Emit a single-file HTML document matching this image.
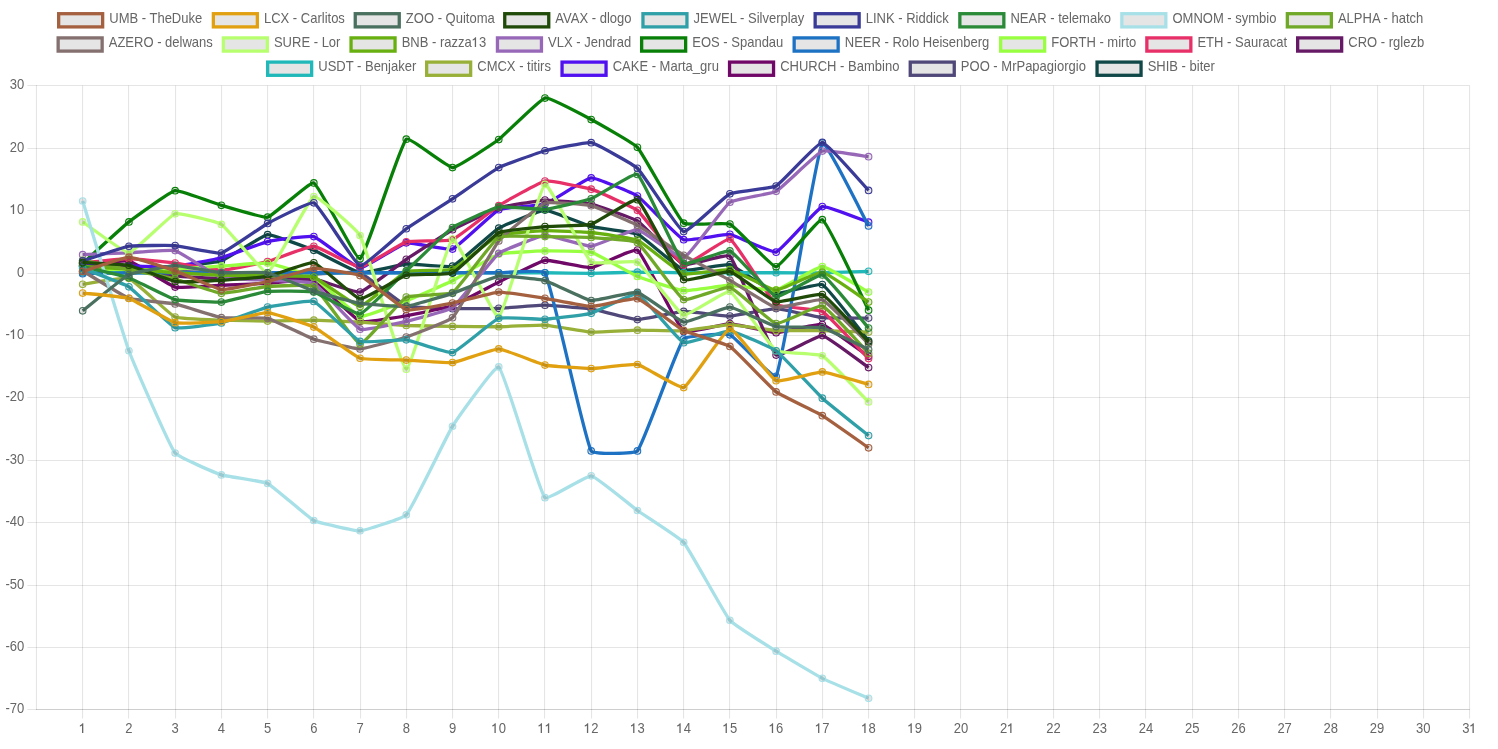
<!DOCTYPE html><html><head><meta charset="utf-8"><title>chart</title><style>html,body{margin:0;padding:0;background:#fff;overflow:hidden}body{width:1498px;height:749px;position:relative}</style></head><body><svg width="1498" height="749" viewBox="0 0 1498 749" style="position:absolute;left:0;top:0;font-family:'Liberation Sans',sans-serif;font-size:14px;fill:#666;will-change:transform"><g stroke="rgba(0,0,0,0.1)" stroke-width="1.1" fill="none"><path d="M82.55 85.55V718.55"/><path d="M128.55 85.55V718.55"/><path d="M175.55 85.55V718.55"/><path d="M221.55 85.55V718.55"/><path d="M267.55 85.55V718.55"/><path d="M313.55 85.55V718.55"/><path d="M360.55 85.55V718.55"/><path d="M406.55 85.55V718.55"/><path d="M452.55 85.55V718.55"/><path d="M498.55 85.55V718.55"/><path d="M544.55 85.55V718.55"/><path d="M591.55 85.55V718.55"/><path d="M637.55 85.55V718.55"/><path d="M683.55 85.55V718.55"/><path d="M729.55 85.55V718.55"/><path d="M776.55 85.55V718.55"/><path d="M822.55 85.55V718.55"/><path d="M868.55 85.55V718.55"/><path d="M914.55 85.55V718.55"/><path d="M960.55 85.55V718.55"/><path d="M1007.55 85.55V718.55"/><path d="M1053.55 85.55V718.55"/><path d="M1099.55 85.55V718.55"/><path d="M1145.55 85.55V718.55"/><path d="M1192.55 85.55V718.55"/><path d="M1238.55 85.55V718.55"/><path d="M1284.55 85.55V718.55"/><path d="M1330.55 85.55V718.55"/><path d="M1377.55 85.55V718.55"/><path d="M1423.55 85.55V718.55"/><path d="M1469.55 85.55V718.55"/><path d="M27.45 85.55H1469.55"/><path d="M27.45 148.55H1469.55"/><path d="M27.45 210.55H1469.55"/><path d="M27.45 273.55H1469.55"/><path d="M27.45 335.55H1469.55"/><path d="M27.45 397.55H1469.55"/><path d="M27.45 460.55H1469.55"/><path d="M27.45 522.55H1469.55"/><path d="M27.45 585.55H1469.55"/><path d="M27.45 647.55H1469.55"/><path d="M27.45 709.55H1469.55"/><path d="M36.45 85.00V710.10"/><path d="M35.90 709.55H1470.10"/></g><g><text transform="translate(9.87 88.90) scale(0.93 1)">30</text><text transform="translate(9.87 151.90) scale(0.93 1)">20</text><path transform="translate(9.87 213.90)" d="M4.25 0H2.95V-7.35C2.35 -6.85 1.55 -6.5 0.8 -6.35V-7.55C1.9 -7.9 2.85 -8.7 3.35 -9.6H4.25Z"/><text transform="translate(17.11 213.90) scale(0.93 1)">0</text><text transform="translate(17.11 276.90) scale(0.93 1)">0</text><text transform="translate(5.53 338.90) scale(0.93 1)">-</text><path transform="translate(9.87 338.90)" d="M4.25 0H2.95V-7.35C2.35 -6.85 1.55 -6.5 0.8 -6.35V-7.55C1.9 -7.9 2.85 -8.7 3.35 -9.6H4.25Z"/><text transform="translate(17.11 338.90) scale(0.93 1)">0</text><text transform="translate(5.53 400.90) scale(0.93 1)">-20</text><text transform="translate(5.53 463.90) scale(0.93 1)">-30</text><text transform="translate(5.53 525.90) scale(0.93 1)">-40</text><text transform="translate(5.53 588.90) scale(0.93 1)">-50</text><text transform="translate(5.53 650.90) scale(0.93 1)">-60</text><text transform="translate(5.53 712.90) scale(0.93 1)">-70</text><path transform="translate(79.06 732.90)" d="M4.25 0H2.95V-7.35C2.35 -6.85 1.55 -6.5 0.8 -6.35V-7.55C1.9 -7.9 2.85 -8.7 3.35 -9.6H4.25Z"/><text transform="translate(125.29 732.90) scale(0.93 1)">2</text><text transform="translate(171.52 732.90) scale(0.93 1)">3</text><text transform="translate(217.75 732.90) scale(0.93 1)">4</text><text transform="translate(263.97 732.90) scale(0.93 1)">5</text><text transform="translate(310.20 732.90) scale(0.93 1)">6</text><text transform="translate(356.43 732.90) scale(0.93 1)">7</text><text transform="translate(402.66 732.90) scale(0.93 1)">8</text><text transform="translate(448.89 732.90) scale(0.93 1)">9</text><path transform="translate(491.50 732.90)" d="M4.25 0H2.95V-7.35C2.35 -6.85 1.55 -6.5 0.8 -6.35V-7.55C1.9 -7.9 2.85 -8.7 3.35 -9.6H4.25Z"/><text transform="translate(498.74 732.90) scale(0.93 1)">0</text><path transform="translate(537.73 732.90)" d="M4.25 0H2.95V-7.35C2.35 -6.85 1.55 -6.5 0.8 -6.35V-7.55C1.9 -7.9 2.85 -8.7 3.35 -9.6H4.25Z"/><path transform="translate(544.97 732.90)" d="M4.25 0H2.95V-7.35C2.35 -6.85 1.55 -6.5 0.8 -6.35V-7.55C1.9 -7.9 2.85 -8.7 3.35 -9.6H4.25Z"/><path transform="translate(583.96 732.90)" d="M4.25 0H2.95V-7.35C2.35 -6.85 1.55 -6.5 0.8 -6.35V-7.55C1.9 -7.9 2.85 -8.7 3.35 -9.6H4.25Z"/><text transform="translate(591.20 732.90) scale(0.93 1)">2</text><path transform="translate(630.19 732.90)" d="M4.25 0H2.95V-7.35C2.35 -6.85 1.55 -6.5 0.8 -6.35V-7.55C1.9 -7.9 2.85 -8.7 3.35 -9.6H4.25Z"/><text transform="translate(637.43 732.90) scale(0.93 1)">3</text><path transform="translate(676.42 732.90)" d="M4.25 0H2.95V-7.35C2.35 -6.85 1.55 -6.5 0.8 -6.35V-7.55C1.9 -7.9 2.85 -8.7 3.35 -9.6H4.25Z"/><text transform="translate(683.66 732.90) scale(0.93 1)">4</text><path transform="translate(722.64 732.90)" d="M4.25 0H2.95V-7.35C2.35 -6.85 1.55 -6.5 0.8 -6.35V-7.55C1.9 -7.9 2.85 -8.7 3.35 -9.6H4.25Z"/><text transform="translate(729.89 732.90) scale(0.93 1)">5</text><path transform="translate(768.87 732.90)" d="M4.25 0H2.95V-7.35C2.35 -6.85 1.55 -6.5 0.8 -6.35V-7.55C1.9 -7.9 2.85 -8.7 3.35 -9.6H4.25Z"/><text transform="translate(776.11 732.90) scale(0.93 1)">6</text><path transform="translate(815.10 732.90)" d="M4.25 0H2.95V-7.35C2.35 -6.85 1.55 -6.5 0.8 -6.35V-7.55C1.9 -7.9 2.85 -8.7 3.35 -9.6H4.25Z"/><text transform="translate(822.34 732.90) scale(0.93 1)">7</text><path transform="translate(861.33 732.90)" d="M4.25 0H2.95V-7.35C2.35 -6.85 1.55 -6.5 0.8 -6.35V-7.55C1.9 -7.9 2.85 -8.7 3.35 -9.6H4.25Z"/><text transform="translate(868.57 732.90) scale(0.93 1)">8</text><path transform="translate(907.56 732.90)" d="M4.25 0H2.95V-7.35C2.35 -6.85 1.55 -6.5 0.8 -6.35V-7.55C1.9 -7.9 2.85 -8.7 3.35 -9.6H4.25Z"/><text transform="translate(914.80 732.90) scale(0.93 1)">9</text><text transform="translate(953.79 732.90) scale(0.93 1)">20</text><text transform="translate(1000.02 732.90) scale(0.93 1)">2</text><path transform="translate(1007.26 732.90)" d="M4.25 0H2.95V-7.35C2.35 -6.85 1.55 -6.5 0.8 -6.35V-7.55C1.9 -7.9 2.85 -8.7 3.35 -9.6H4.25Z"/><text transform="translate(1046.25 732.90) scale(0.93 1)">22</text><text transform="translate(1092.48 732.90) scale(0.93 1)">23</text><text transform="translate(1138.71 732.90) scale(0.93 1)">24</text><text transform="translate(1184.93 732.90) scale(0.93 1)">25</text><text transform="translate(1231.16 732.90) scale(0.93 1)">26</text><text transform="translate(1277.39 732.90) scale(0.93 1)">27</text><text transform="translate(1323.62 732.90) scale(0.93 1)">28</text><text transform="translate(1369.85 732.90) scale(0.93 1)">29</text><text transform="translate(1416.08 732.90) scale(0.93 1)">30</text><text transform="translate(1462.31 732.90) scale(0.93 1)">3</text><path transform="translate(1469.55 732.90)" d="M4.25 0H2.95V-7.35C2.35 -6.85 1.55 -6.5 0.8 -6.35V-7.55C1.9 -7.9 2.85 -8.7 3.35 -9.6H4.25Z"/></g><g stroke="#104848" fill="none"><path d="M82.68 263.39C87.30 263.70 124.28 266.35 128.91 266.51C133.53 266.67 170.53 266.79 175.14 266.51C179.78 266.23 217.05 262.38 221.37 260.89C226.29 259.20 262.77 235.24 267.60 234.69C272.02 234.18 309.32 248.43 313.82 250.29C318.57 252.24 355.23 272.03 360.05 272.75C364.47 273.41 401.62 264.34 406.28 264.01C410.87 263.69 448.48 267.76 452.51 266.20C457.73 264.17 493.69 231.20 498.74 228.13C502.93 225.59 540.32 210.12 544.97 210.04C549.57 209.96 586.47 225.34 591.20 226.57C595.71 227.75 633.32 232.13 637.43 234.06C642.57 236.48 678.50 268.42 683.66 270.13C687.75 271.48 725.62 263.57 729.89 264.64C734.87 265.89 771.16 292.27 776.11 293.34C780.40 294.27 818.71 282.74 822.34 284.61C827.96 287.49 863.95 335.15 868.57 340.77" stroke-width="3.3"/><g fill="rgba(0,0,0,0.1)" stroke-width="1.1"><circle cx="82.68" cy="263.39" r="3.3"/><circle cx="128.91" cy="266.51" r="3.3"/><circle cx="175.14" cy="266.51" r="3.3"/><circle cx="221.37" cy="260.89" r="3.3"/><circle cx="267.60" cy="234.69" r="3.3"/><circle cx="313.82" cy="250.29" r="3.3"/><circle cx="360.05" cy="272.75" r="3.3"/><circle cx="406.28" cy="264.01" r="3.3"/><circle cx="452.51" cy="266.20" r="3.3"/><circle cx="498.74" cy="228.13" r="3.3"/><circle cx="544.97" cy="210.04" r="3.3"/><circle cx="591.20" cy="226.57" r="3.3"/><circle cx="637.43" cy="234.06" r="3.3"/><circle cx="683.66" cy="270.13" r="3.3"/><circle cx="729.89" cy="264.64" r="3.3"/><circle cx="776.11" cy="293.34" r="3.3"/><circle cx="822.34" cy="284.61" r="3.3"/><circle cx="868.57" cy="340.77" r="3.3"/></g></g><g stroke="#504878" fill="none"><path d="M82.68 271.50C87.30 271.44 124.29 270.88 128.91 270.88C133.53 270.88 170.51 271.41 175.14 271.50C179.76 271.60 216.74 272.63 221.37 272.75C225.99 272.87 262.97 273.94 267.60 274.00C272.22 274.06 309.20 274.06 313.82 274.00C318.45 273.94 355.91 271.32 360.05 272.75C365.15 274.50 401.19 303.84 406.28 305.82C410.43 307.43 447.88 308.51 452.51 308.63C457.13 308.75 494.12 308.49 498.74 308.32C503.37 308.15 540.35 305.17 544.97 305.20C549.59 305.23 586.63 308.23 591.20 308.94C595.87 309.67 632.78 319.42 637.43 319.55C642.03 319.67 679.01 311.61 683.66 311.44C688.26 311.27 725.28 316.26 729.89 316.12C734.53 315.97 771.51 308.49 776.11 308.57C780.75 308.65 817.68 317.20 822.34 317.68C826.92 318.15 863.95 318.01 868.57 318.05" stroke-width="3.3"/><g fill="rgba(0,0,0,0.1)" stroke-width="1.1"><circle cx="82.68" cy="271.50" r="3.3"/><circle cx="128.91" cy="270.88" r="3.3"/><circle cx="175.14" cy="271.50" r="3.3"/><circle cx="221.37" cy="272.75" r="3.3"/><circle cx="267.60" cy="274.00" r="3.3"/><circle cx="313.82" cy="274.00" r="3.3"/><circle cx="360.05" cy="272.75" r="3.3"/><circle cx="406.28" cy="305.82" r="3.3"/><circle cx="452.51" cy="308.63" r="3.3"/><circle cx="498.74" cy="308.32" r="3.3"/><circle cx="544.97" cy="305.20" r="3.3"/><circle cx="591.20" cy="308.94" r="3.3"/><circle cx="637.43" cy="319.55" r="3.3"/><circle cx="683.66" cy="311.44" r="3.3"/><circle cx="729.89" cy="316.12" r="3.3"/><circle cx="776.11" cy="308.57" r="3.3"/><circle cx="822.34" cy="317.68" r="3.3"/><circle cx="868.57" cy="318.05" r="3.3"/></g></g><g stroke="#700868" fill="none"><path d="M82.68 265.26C87.30 264.83 124.60 259.88 128.91 260.89C133.84 262.06 170.19 285.80 175.14 287.10C179.44 288.23 216.74 285.42 221.37 285.23C225.99 285.04 262.98 283.61 267.60 283.36C272.22 283.11 309.87 278.61 313.82 280.24C319.11 282.42 354.78 319.39 360.05 321.42C364.02 322.95 401.70 316.58 406.28 315.81C410.94 315.02 448.11 307.43 452.51 305.82C457.35 304.06 494.08 284.41 498.74 282.11C503.33 279.85 540.14 261.03 544.97 260.27C549.39 259.58 586.70 268.07 591.20 267.57C595.95 267.05 634.23 247.89 637.43 250.10C643.48 254.28 677.50 326.51 683.66 331.41C686.74 333.86 725.27 323.54 729.89 323.61C734.52 323.67 771.48 332.61 776.11 332.65C780.73 332.70 818.13 323.46 822.34 324.54C827.38 325.83 863.95 353.18 868.57 356.37" stroke-width="3.3"/><g fill="rgba(0,0,0,0.1)" stroke-width="1.1"><circle cx="82.68" cy="265.26" r="3.3"/><circle cx="128.91" cy="260.89" r="3.3"/><circle cx="175.14" cy="287.10" r="3.3"/><circle cx="221.37" cy="285.23" r="3.3"/><circle cx="267.60" cy="283.36" r="3.3"/><circle cx="313.82" cy="280.24" r="3.3"/><circle cx="360.05" cy="321.42" r="3.3"/><circle cx="406.28" cy="315.81" r="3.3"/><circle cx="452.51" cy="305.82" r="3.3"/><circle cx="498.74" cy="282.11" r="3.3"/><circle cx="544.97" cy="260.27" r="3.3"/><circle cx="591.20" cy="267.57" r="3.3"/><circle cx="637.43" cy="250.10" r="3.3"/><circle cx="683.66" cy="331.41" r="3.3"/><circle cx="729.89" cy="323.61" r="3.3"/><circle cx="776.11" cy="332.65" r="3.3"/><circle cx="822.34" cy="324.54" r="3.3"/><circle cx="868.57" cy="356.37" r="3.3"/></g></g><g stroke="#5010F0" fill="none"><path d="M82.68 265.26C87.30 265.32 124.29 265.82 128.91 265.89C133.53 265.95 170.55 266.91 175.14 266.51C179.80 266.10 216.84 259.00 221.37 257.77C226.08 256.50 262.85 242.64 267.60 241.55C272.10 240.52 309.63 235.35 313.82 236.56C318.87 238.01 355.29 267.75 360.05 268.07C364.54 268.37 401.38 243.81 406.28 242.80C410.62 241.90 448.49 250.48 452.51 249.04C457.74 247.17 493.51 212.27 498.74 209.73C502.75 207.78 540.65 205.60 544.97 204.11C549.90 202.41 586.42 178.32 591.20 177.90C595.66 177.51 633.37 193.29 637.43 196.00C642.62 199.47 678.32 237.46 683.66 239.68C687.56 241.30 725.41 233.77 729.89 234.37C734.65 235.02 772.11 253.36 776.11 252.16C781.36 250.58 817.07 208.32 822.34 206.61C826.31 205.32 863.95 220.65 868.57 222.21" stroke-width="3.3"/><g fill="rgba(0,0,0,0.1)" stroke-width="1.1"><circle cx="82.68" cy="265.26" r="3.3"/><circle cx="128.91" cy="265.89" r="3.3"/><circle cx="175.14" cy="266.51" r="3.3"/><circle cx="221.37" cy="257.77" r="3.3"/><circle cx="267.60" cy="241.55" r="3.3"/><circle cx="313.82" cy="236.56" r="3.3"/><circle cx="360.05" cy="268.07" r="3.3"/><circle cx="406.28" cy="242.80" r="3.3"/><circle cx="452.51" cy="249.04" r="3.3"/><circle cx="498.74" cy="209.73" r="3.3"/><circle cx="544.97" cy="204.11" r="3.3"/><circle cx="591.20" cy="177.90" r="3.3"/><circle cx="637.43" cy="196.00" r="3.3"/><circle cx="683.66" cy="239.68" r="3.3"/><circle cx="729.89" cy="234.37" r="3.3"/><circle cx="776.11" cy="252.16" r="3.3"/><circle cx="822.34" cy="206.61" r="3.3"/><circle cx="868.57" cy="222.21" r="3.3"/></g></g><g stroke="#98B038" fill="none"><path d="M82.68 284.29C87.30 283.70 124.88 276.94 128.91 278.37C134.12 280.21 169.91 314.69 175.14 317.05C179.16 318.87 216.74 319.97 221.37 320.17C225.98 320.38 262.97 321.11 267.60 321.11C272.22 321.11 309.20 320.13 313.82 320.17C318.45 320.22 355.43 321.78 360.05 322.05C364.68 322.31 401.65 325.26 406.28 325.48C410.90 325.70 447.89 326.35 452.51 326.41C457.13 326.48 494.12 326.79 498.74 326.73C503.36 326.66 540.37 324.90 544.97 325.17C549.62 325.43 586.55 331.78 591.20 332.03C595.80 332.28 632.80 330.22 637.43 330.16C642.05 330.10 679.05 331.06 683.66 330.78C688.30 330.50 725.26 324.55 729.89 324.54C734.51 324.53 771.47 330.29 776.11 330.59C780.72 330.90 817.72 330.52 822.34 330.59C826.97 330.67 863.95 331.89 868.57 332.03" stroke-width="3.3"/><g fill="rgba(0,0,0,0.1)" stroke-width="1.1"><circle cx="82.68" cy="284.29" r="3.3"/><circle cx="128.91" cy="278.37" r="3.3"/><circle cx="175.14" cy="317.05" r="3.3"/><circle cx="221.37" cy="320.17" r="3.3"/><circle cx="267.60" cy="321.11" r="3.3"/><circle cx="313.82" cy="320.17" r="3.3"/><circle cx="360.05" cy="322.05" r="3.3"/><circle cx="406.28" cy="325.48" r="3.3"/><circle cx="452.51" cy="326.41" r="3.3"/><circle cx="498.74" cy="326.73" r="3.3"/><circle cx="544.97" cy="325.17" r="3.3"/><circle cx="591.20" cy="332.03" r="3.3"/><circle cx="637.43" cy="330.16" r="3.3"/><circle cx="683.66" cy="330.78" r="3.3"/><circle cx="729.89" cy="324.54" r="3.3"/><circle cx="776.11" cy="330.59" r="3.3"/><circle cx="822.34" cy="330.59" r="3.3"/><circle cx="868.57" cy="332.03" r="3.3"/></g></g><g stroke="#20B8B8" fill="none"><path d="M82.68 272.75C87.30 272.75 124.29 272.75 128.91 272.75C133.53 272.75 170.51 272.75 175.14 272.75C179.76 272.75 216.74 272.75 221.37 272.75C225.99 272.75 262.97 272.75 267.60 272.75C272.22 272.75 309.20 272.75 313.82 272.75C318.45 272.75 355.43 272.75 360.05 272.75C364.68 272.75 401.66 272.75 406.28 272.75C410.91 272.75 447.89 272.75 452.51 272.75C457.13 272.75 494.12 272.75 498.74 272.75C503.36 272.75 540.35 272.72 544.97 272.75C549.59 272.78 586.58 273.41 591.20 273.37C595.82 273.34 632.80 272.16 637.43 272.13C642.05 272.09 679.03 272.72 683.66 272.75C688.28 272.78 725.26 272.75 729.89 272.75C734.51 272.75 771.49 272.75 776.11 272.75C780.74 272.75 817.72 272.82 822.34 272.75C826.97 272.68 863.95 271.46 868.57 271.31" stroke-width="3.3"/><g fill="rgba(0,0,0,0.1)" stroke-width="1.1"><circle cx="82.68" cy="272.75" r="3.3"/><circle cx="128.91" cy="272.75" r="3.3"/><circle cx="175.14" cy="272.75" r="3.3"/><circle cx="221.37" cy="272.75" r="3.3"/><circle cx="267.60" cy="272.75" r="3.3"/><circle cx="313.82" cy="272.75" r="3.3"/><circle cx="360.05" cy="272.75" r="3.3"/><circle cx="406.28" cy="272.75" r="3.3"/><circle cx="452.51" cy="272.75" r="3.3"/><circle cx="498.74" cy="272.75" r="3.3"/><circle cx="544.97" cy="272.75" r="3.3"/><circle cx="591.20" cy="273.37" r="3.3"/><circle cx="637.43" cy="272.13" r="3.3"/><circle cx="683.66" cy="272.75" r="3.3"/><circle cx="729.89" cy="272.75" r="3.3"/><circle cx="776.11" cy="272.75" r="3.3"/><circle cx="822.34" cy="272.75" r="3.3"/><circle cx="868.57" cy="271.31" r="3.3"/></g></g><g stroke="#661A66" fill="none"><path d="M82.68 266.51C87.30 266.63 124.32 267.29 128.91 267.76C133.57 268.23 170.48 275.34 175.14 275.87C179.73 276.40 216.74 278.21 221.37 278.37C225.99 278.52 262.97 278.96 267.60 278.99C272.22 279.02 309.29 278.35 313.82 278.99C318.54 279.66 355.81 293.00 360.05 292.09C365.06 291.03 401.59 262.50 406.28 259.33C410.83 256.26 447.72 232.36 452.51 229.69C456.97 227.21 493.92 209.40 498.74 207.85C503.16 206.44 540.32 200.24 544.97 200.05C549.57 199.87 586.71 203.10 591.20 204.11C595.96 205.19 633.39 218.32 637.43 220.96C642.64 224.37 678.34 262.62 683.66 264.64C687.59 266.13 727.10 253.37 729.89 256.09C736.35 262.42 769.78 349.67 776.11 355.12C779.02 357.62 817.98 335.00 822.34 335.59C827.23 336.25 863.95 364.40 868.57 367.60" stroke-width="3.3"/><g fill="rgba(0,0,0,0.1)" stroke-width="1.1"><circle cx="82.68" cy="266.51" r="3.3"/><circle cx="128.91" cy="267.76" r="3.3"/><circle cx="175.14" cy="275.87" r="3.3"/><circle cx="221.37" cy="278.37" r="3.3"/><circle cx="267.60" cy="278.99" r="3.3"/><circle cx="313.82" cy="278.99" r="3.3"/><circle cx="360.05" cy="292.09" r="3.3"/><circle cx="406.28" cy="259.33" r="3.3"/><circle cx="452.51" cy="229.69" r="3.3"/><circle cx="498.74" cy="207.85" r="3.3"/><circle cx="544.97" cy="200.05" r="3.3"/><circle cx="591.20" cy="204.11" r="3.3"/><circle cx="637.43" cy="220.96" r="3.3"/><circle cx="683.66" cy="264.64" r="3.3"/><circle cx="729.89" cy="256.09" r="3.3"/><circle cx="776.11" cy="355.12" r="3.3"/><circle cx="822.34" cy="335.59" r="3.3"/><circle cx="868.57" cy="367.60" r="3.3"/></g></g><g stroke="#E83068" fill="none"><path d="M82.68 262.77C87.30 262.36 124.29 258.69 128.91 258.71C133.53 258.73 170.53 262.50 175.14 263.08C179.78 263.66 216.76 270.33 221.37 270.25C226.00 270.18 263.05 262.70 267.60 261.52C272.30 260.30 309.30 245.95 313.82 246.23C318.54 246.52 355.52 267.35 360.05 267.13C364.76 266.91 401.36 243.32 406.28 241.86C410.61 240.58 448.38 241.29 452.51 239.68C457.63 237.67 493.91 208.74 498.74 205.67C503.15 202.87 540.09 181.89 544.97 181.02C549.34 180.24 586.76 187.73 591.20 189.13C596.01 190.66 633.59 207.20 637.43 210.35C642.83 214.78 678.34 263.30 683.66 264.95C687.59 266.17 726.21 237.48 729.89 239.05C735.45 241.44 770.27 300.00 776.11 304.57C779.52 307.24 818.51 309.20 822.34 311.44C827.76 314.60 863.95 353.89 868.57 358.61" stroke-width="3.3"/><g fill="rgba(0,0,0,0.1)" stroke-width="1.1"><circle cx="82.68" cy="262.77" r="3.3"/><circle cx="128.91" cy="258.71" r="3.3"/><circle cx="175.14" cy="263.08" r="3.3"/><circle cx="221.37" cy="270.25" r="3.3"/><circle cx="267.60" cy="261.52" r="3.3"/><circle cx="313.82" cy="246.23" r="3.3"/><circle cx="360.05" cy="267.13" r="3.3"/><circle cx="406.28" cy="241.86" r="3.3"/><circle cx="452.51" cy="239.68" r="3.3"/><circle cx="498.74" cy="205.67" r="3.3"/><circle cx="544.97" cy="181.02" r="3.3"/><circle cx="591.20" cy="189.13" r="3.3"/><circle cx="637.43" cy="210.35" r="3.3"/><circle cx="683.66" cy="264.95" r="3.3"/><circle cx="729.89" cy="239.05" r="3.3"/><circle cx="776.11" cy="304.57" r="3.3"/><circle cx="822.34" cy="311.44" r="3.3"/><circle cx="868.57" cy="358.61" r="3.3"/></g></g><g stroke="#98FF40" fill="none"><path d="M82.68 269.01C87.30 269.13 124.29 270.25 128.91 270.25C133.53 270.25 170.52 269.21 175.14 269.01C179.76 268.80 216.74 266.49 221.37 266.20C225.99 265.90 263.07 262.54 267.60 263.08C272.31 263.64 309.73 274.75 313.82 277.12C318.97 280.09 354.93 315.12 360.05 316.43C364.17 317.49 401.74 302.59 406.28 300.83C410.98 299.01 448.02 282.95 452.51 280.67C457.26 278.27 493.79 255.62 498.74 254.03C503.04 252.65 540.34 251.00 544.97 250.91C549.59 250.82 586.86 250.96 591.20 252.16C596.10 253.52 632.63 274.49 637.43 276.49C641.87 278.34 678.95 290.21 683.66 290.66C688.19 291.09 725.26 285.25 729.89 285.23C734.51 285.21 771.75 291.11 776.11 290.22C780.99 289.23 817.76 266.42 822.34 266.51C827.01 266.60 863.95 289.54 868.57 292.09" stroke-width="3.3"/><g fill="rgba(0,0,0,0.1)" stroke-width="1.1"><circle cx="82.68" cy="269.01" r="3.3"/><circle cx="128.91" cy="270.25" r="3.3"/><circle cx="175.14" cy="269.01" r="3.3"/><circle cx="221.37" cy="266.20" r="3.3"/><circle cx="267.60" cy="263.08" r="3.3"/><circle cx="313.82" cy="277.12" r="3.3"/><circle cx="360.05" cy="316.43" r="3.3"/><circle cx="406.28" cy="300.83" r="3.3"/><circle cx="452.51" cy="280.67" r="3.3"/><circle cx="498.74" cy="254.03" r="3.3"/><circle cx="544.97" cy="250.91" r="3.3"/><circle cx="591.20" cy="252.16" r="3.3"/><circle cx="637.43" cy="276.49" r="3.3"/><circle cx="683.66" cy="290.66" r="3.3"/><circle cx="729.89" cy="285.23" r="3.3"/><circle cx="776.11" cy="290.22" r="3.3"/><circle cx="822.34" cy="266.51" r="3.3"/><circle cx="868.57" cy="292.09" r="3.3"/></g></g><g stroke="#1E72C4" fill="none"><path d="M82.68 273.69C87.30 273.59 124.28 272.80 128.91 272.75C133.53 272.70 170.51 272.75 175.14 272.75C179.76 272.75 216.74 272.75 221.37 272.75C225.99 272.75 262.97 272.75 267.60 272.75C272.22 272.75 309.20 272.75 313.82 272.75C318.45 272.75 355.43 272.75 360.05 272.75C364.68 272.75 401.66 272.75 406.28 272.75C410.91 272.75 447.89 272.75 452.51 272.75C457.13 272.75 494.12 272.75 498.74 272.75C503.36 272.75 543.11 269.17 544.97 272.75C552.36 286.99 583.81 436.66 591.20 450.90C593.05 454.48 634.87 454.00 637.43 450.90C644.12 442.79 676.97 347.29 683.66 338.89C686.22 335.68 725.93 333.24 729.89 334.84C735.18 336.98 774.20 380.31 776.11 376.33C783.45 361.12 815.74 153.71 822.34 142.96C824.98 138.67 863.95 217.65 868.57 225.95" stroke-width="3.3"/><g fill="rgba(0,0,0,0.1)" stroke-width="1.1"><circle cx="82.68" cy="273.69" r="3.3"/><circle cx="128.91" cy="272.75" r="3.3"/><circle cx="175.14" cy="272.75" r="3.3"/><circle cx="221.37" cy="272.75" r="3.3"/><circle cx="267.60" cy="272.75" r="3.3"/><circle cx="313.82" cy="272.75" r="3.3"/><circle cx="360.05" cy="272.75" r="3.3"/><circle cx="406.28" cy="272.75" r="3.3"/><circle cx="452.51" cy="272.75" r="3.3"/><circle cx="498.74" cy="272.75" r="3.3"/><circle cx="544.97" cy="272.75" r="3.3"/><circle cx="591.20" cy="450.90" r="3.3"/><circle cx="637.43" cy="450.90" r="3.3"/><circle cx="683.66" cy="338.89" r="3.3"/><circle cx="729.89" cy="334.84" r="3.3"/><circle cx="776.11" cy="376.33" r="3.3"/><circle cx="822.34" cy="142.96" r="3.3"/><circle cx="868.57" cy="225.95" r="3.3"/></g></g><g stroke="#088008" fill="none"><path d="M82.68 263.39C87.30 259.24 124.04 225.72 128.91 221.89C133.28 218.45 170.19 191.58 175.14 190.69C179.44 189.92 216.71 204.02 221.37 205.36C225.95 206.67 263.40 218.23 267.60 217.21C272.65 215.99 310.19 181.26 313.82 182.89C319.43 185.41 356.27 260.50 360.05 258.71C365.51 256.13 399.79 145.61 406.28 139.21C409.03 136.50 447.88 167.59 452.51 167.61C457.13 167.62 494.44 142.76 498.74 139.53C503.68 135.81 539.89 99.13 544.97 98.03C549.14 97.13 586.70 117.16 591.20 119.56C595.95 122.09 633.93 143.41 637.43 147.33C643.18 153.77 677.58 218.09 683.66 223.14C686.82 225.77 725.97 222.23 729.89 224.08C735.22 226.60 771.60 267.04 776.11 266.82C780.85 266.60 818.70 218.00 822.34 219.71C827.95 222.34 863.95 301.14 868.57 310.19" stroke-width="3.3"/><g fill="rgba(0,0,0,0.1)" stroke-width="1.1"><circle cx="82.68" cy="263.39" r="3.3"/><circle cx="128.91" cy="221.89" r="3.3"/><circle cx="175.14" cy="190.69" r="3.3"/><circle cx="221.37" cy="205.36" r="3.3"/><circle cx="267.60" cy="217.21" r="3.3"/><circle cx="313.82" cy="182.89" r="3.3"/><circle cx="360.05" cy="258.71" r="3.3"/><circle cx="406.28" cy="139.21" r="3.3"/><circle cx="452.51" cy="167.61" r="3.3"/><circle cx="498.74" cy="139.53" r="3.3"/><circle cx="544.97" cy="98.03" r="3.3"/><circle cx="591.20" cy="119.56" r="3.3"/><circle cx="637.43" cy="147.33" r="3.3"/><circle cx="683.66" cy="223.14" r="3.3"/><circle cx="729.89" cy="224.08" r="3.3"/><circle cx="776.11" cy="266.82" r="3.3"/><circle cx="822.34" cy="219.71" r="3.3"/><circle cx="868.57" cy="310.19" r="3.3"/></g></g><g stroke="#9868B8" fill="none"><path d="M82.68 254.65C87.30 254.47 124.29 252.98 128.91 252.78C133.53 252.58 170.85 249.44 175.14 250.60C180.10 251.94 216.40 276.15 221.37 277.74C225.65 279.12 262.97 279.96 267.60 280.24C272.22 280.52 309.98 281.32 313.82 283.36C319.23 286.22 354.68 327.01 360.05 329.22C363.92 330.82 401.72 322.48 406.28 321.42C410.97 320.33 448.78 310.44 452.51 307.69C458.03 303.64 493.29 257.67 498.74 253.41C502.54 250.43 540.24 235.68 544.97 235.31C549.49 234.96 586.65 246.51 591.20 246.23C595.90 245.94 633.04 229.13 637.43 229.69C642.28 230.32 679.70 259.26 683.66 258.09C688.94 256.52 724.30 206.27 729.89 202.24C733.55 199.60 772.08 193.55 776.11 191.32C781.32 188.44 817.09 153.04 822.34 151.07C826.34 149.57 863.95 156.12 868.57 156.69" stroke-width="3.3"/><g fill="rgba(0,0,0,0.1)" stroke-width="1.1"><circle cx="82.68" cy="254.65" r="3.3"/><circle cx="128.91" cy="252.78" r="3.3"/><circle cx="175.14" cy="250.60" r="3.3"/><circle cx="221.37" cy="277.74" r="3.3"/><circle cx="267.60" cy="280.24" r="3.3"/><circle cx="313.82" cy="283.36" r="3.3"/><circle cx="360.05" cy="329.22" r="3.3"/><circle cx="406.28" cy="321.42" r="3.3"/><circle cx="452.51" cy="307.69" r="3.3"/><circle cx="498.74" cy="253.41" r="3.3"/><circle cx="544.97" cy="235.31" r="3.3"/><circle cx="591.20" cy="246.23" r="3.3"/><circle cx="637.43" cy="229.69" r="3.3"/><circle cx="683.66" cy="258.09" r="3.3"/><circle cx="729.89" cy="202.24" r="3.3"/><circle cx="776.11" cy="191.32" r="3.3"/><circle cx="822.34" cy="151.07" r="3.3"/><circle cx="868.57" cy="156.69" r="3.3"/></g></g><g stroke="#68B010" fill="none"><path d="M82.68 266.51C87.30 266.76 124.29 268.69 128.91 269.01C133.54 269.32 170.51 272.44 175.14 272.75C179.76 273.06 216.74 275.09 221.37 275.25C225.99 275.40 262.97 275.78 267.60 275.87C272.22 275.96 309.59 275.72 313.82 277.12C318.84 278.78 355.56 306.72 360.05 306.45C364.81 306.16 401.14 273.57 406.28 271.50C410.39 269.85 448.38 270.93 452.51 269.32C457.63 267.31 493.63 237.45 498.74 235.31C502.88 233.58 540.34 230.77 544.97 230.63C549.58 230.49 586.60 232.03 591.20 232.50C595.85 232.98 633.27 238.19 637.43 240.05C642.52 242.34 678.55 272.36 683.66 274.00C687.79 275.32 725.46 268.85 729.89 269.63C734.71 270.48 771.45 290.10 776.11 290.22C780.69 290.35 817.96 271.56 822.34 272.13C827.21 272.75 863.95 299.08 868.57 302.08" stroke-width="3.3"/><g fill="rgba(0,0,0,0.1)" stroke-width="1.1"><circle cx="82.68" cy="266.51" r="3.3"/><circle cx="128.91" cy="269.01" r="3.3"/><circle cx="175.14" cy="272.75" r="3.3"/><circle cx="221.37" cy="275.25" r="3.3"/><circle cx="267.60" cy="275.87" r="3.3"/><circle cx="313.82" cy="277.12" r="3.3"/><circle cx="360.05" cy="306.45" r="3.3"/><circle cx="406.28" cy="271.50" r="3.3"/><circle cx="452.51" cy="269.32" r="3.3"/><circle cx="498.74" cy="235.31" r="3.3"/><circle cx="544.97" cy="230.63" r="3.3"/><circle cx="591.20" cy="232.50" r="3.3"/><circle cx="637.43" cy="240.05" r="3.3"/><circle cx="683.66" cy="274.00" r="3.3"/><circle cx="729.89" cy="269.63" r="3.3"/><circle cx="776.11" cy="290.22" r="3.3"/><circle cx="822.34" cy="272.13" r="3.3"/><circle cx="868.57" cy="302.08" r="3.3"/></g></g><g stroke="#B8FF70" fill="none"><path d="M82.68 221.89C87.30 224.98 124.48 253.17 128.91 252.78C133.73 252.36 169.96 215.37 175.14 213.78C179.20 212.53 217.53 221.94 221.37 224.39C226.78 227.84 263.63 273.94 267.60 272.75C272.88 271.16 308.32 198.83 313.82 196.62C317.56 195.12 357.28 230.45 360.05 235.62C366.53 247.70 401.61 368.98 406.28 369.16C410.85 369.33 446.93 242.20 452.51 239.05C456.18 236.99 495.11 319.20 498.74 317.05C504.36 313.74 539.34 187.79 544.97 184.45C548.59 182.30 585.08 257.00 591.20 262.14C594.33 264.77 633.76 260.04 637.43 262.14C643.01 265.34 678.34 313.49 683.66 315.18C687.58 316.43 726.11 290.02 729.89 291.47C735.35 293.57 770.40 346.78 776.11 350.75C779.65 353.21 818.50 353.61 822.34 355.74C827.75 358.73 863.95 397.30 868.57 401.92" stroke-width="3.3"/><g fill="rgba(0,0,0,0.1)" stroke-width="1.1"><circle cx="82.68" cy="221.89" r="3.3"/><circle cx="128.91" cy="252.78" r="3.3"/><circle cx="175.14" cy="213.78" r="3.3"/><circle cx="221.37" cy="224.39" r="3.3"/><circle cx="267.60" cy="272.75" r="3.3"/><circle cx="313.82" cy="196.62" r="3.3"/><circle cx="360.05" cy="235.62" r="3.3"/><circle cx="406.28" cy="369.16" r="3.3"/><circle cx="452.51" cy="239.05" r="3.3"/><circle cx="498.74" cy="317.05" r="3.3"/><circle cx="544.97" cy="184.45" r="3.3"/><circle cx="591.20" cy="262.14" r="3.3"/><circle cx="637.43" cy="262.14" r="3.3"/><circle cx="683.66" cy="315.18" r="3.3"/><circle cx="729.89" cy="291.47" r="3.3"/><circle cx="776.11" cy="350.75" r="3.3"/><circle cx="822.34" cy="355.74" r="3.3"/><circle cx="868.57" cy="401.92" r="3.3"/></g></g><g stroke="#857070" fill="none"><path d="M82.68 270.88C87.30 273.62 123.95 296.56 128.91 298.33C133.20 299.87 170.59 303.00 175.14 303.95C179.84 304.93 216.65 316.95 221.37 317.68C225.89 318.38 263.19 317.28 267.60 318.30C272.43 319.43 309.04 337.62 313.82 339.21C318.28 340.68 355.45 348.99 360.05 348.88C364.70 348.77 401.77 338.54 406.28 337.02C411.02 335.42 449.19 321.12 452.51 317.68C458.44 311.52 493.19 247.80 498.74 240.93C502.44 236.35 539.76 205.16 544.97 203.17C549.01 201.63 586.76 204.61 591.20 205.67C596.01 206.82 633.02 222.96 637.43 225.33C642.26 227.92 678.92 252.47 683.66 255.28C688.17 257.96 725.32 277.65 729.89 280.24C734.56 282.89 771.18 306.64 776.11 307.69C780.42 308.61 818.43 298.36 822.34 299.89C827.67 301.98 863.95 339.49 868.57 343.89" stroke-width="3.3"/><g fill="rgba(0,0,0,0.1)" stroke-width="1.1"><circle cx="82.68" cy="270.88" r="3.3"/><circle cx="128.91" cy="298.33" r="3.3"/><circle cx="175.14" cy="303.95" r="3.3"/><circle cx="221.37" cy="317.68" r="3.3"/><circle cx="267.60" cy="318.30" r="3.3"/><circle cx="313.82" cy="339.21" r="3.3"/><circle cx="360.05" cy="348.88" r="3.3"/><circle cx="406.28" cy="337.02" r="3.3"/><circle cx="452.51" cy="317.68" r="3.3"/><circle cx="498.74" cy="240.93" r="3.3"/><circle cx="544.97" cy="203.17" r="3.3"/><circle cx="591.20" cy="205.67" r="3.3"/><circle cx="637.43" cy="225.33" r="3.3"/><circle cx="683.66" cy="255.28" r="3.3"/><circle cx="729.89" cy="280.24" r="3.3"/><circle cx="776.11" cy="307.69" r="3.3"/><circle cx="822.34" cy="299.89" r="3.3"/><circle cx="868.57" cy="343.89" r="3.3"/></g></g><g stroke="#70A828" fill="none"><path d="M82.68 260.27C87.30 261.21 124.29 268.69 128.91 269.63C133.53 270.57 170.57 277.82 175.14 278.99C179.82 280.19 216.66 292.96 221.37 293.34C225.91 293.71 262.95 286.82 267.60 286.48C272.19 286.14 310.26 284.27 313.82 286.48C319.51 290.01 355.17 343.33 360.05 343.89C364.41 344.39 400.86 300.09 406.28 297.09C410.11 294.97 448.89 295.06 452.51 292.72C458.14 289.07 493.10 240.61 498.74 237.18C502.35 234.99 540.35 236.54 544.97 236.56C549.59 236.57 586.59 237.20 591.20 237.49C595.83 237.79 633.84 240.14 637.43 242.55C643.09 246.35 678.06 296.89 683.66 299.58C687.31 301.34 725.74 286.02 729.89 287.10C734.99 288.43 771.09 322.59 776.11 323.61C780.34 324.46 818.39 304.55 822.34 305.82C827.63 307.52 863.95 348.50 868.57 353.25" stroke-width="3.3"/><g fill="rgba(0,0,0,0.1)" stroke-width="1.1"><circle cx="82.68" cy="260.27" r="3.3"/><circle cx="128.91" cy="269.63" r="3.3"/><circle cx="175.14" cy="278.99" r="3.3"/><circle cx="221.37" cy="293.34" r="3.3"/><circle cx="267.60" cy="286.48" r="3.3"/><circle cx="313.82" cy="286.48" r="3.3"/><circle cx="360.05" cy="343.89" r="3.3"/><circle cx="406.28" cy="297.09" r="3.3"/><circle cx="452.51" cy="292.72" r="3.3"/><circle cx="498.74" cy="237.18" r="3.3"/><circle cx="544.97" cy="236.56" r="3.3"/><circle cx="591.20" cy="237.49" r="3.3"/><circle cx="637.43" cy="242.55" r="3.3"/><circle cx="683.66" cy="299.58" r="3.3"/><circle cx="729.89" cy="287.10" r="3.3"/><circle cx="776.11" cy="323.61" r="3.3"/><circle cx="822.34" cy="305.82" r="3.3"/><circle cx="868.57" cy="353.25" r="3.3"/></g></g><g stroke="#A8E0E8" fill="none"><path d="M82.68 200.99C87.30 215.97 123.52 336.06 128.91 350.75C132.77 361.27 168.78 444.55 175.14 453.09C178.03 456.97 216.55 473.35 221.37 474.93C225.79 476.38 263.51 481.40 267.60 483.41C272.75 485.95 308.69 517.85 313.82 520.48C317.93 522.58 355.50 531.05 360.05 530.77C364.75 530.49 403.25 518.30 406.28 514.86C412.49 507.84 447.23 434.69 452.51 426.25C456.48 419.91 495.49 364.46 498.74 366.97C504.74 371.61 538.21 489.75 544.97 497.70C547.46 500.64 586.86 475.26 591.20 475.86C596.10 476.54 632.74 507.12 637.43 510.49C641.98 513.77 680.12 538.12 683.66 542.32C689.37 549.10 724.15 613.57 729.89 620.32C733.40 624.46 771.41 648.25 776.11 651.21C780.65 654.05 817.58 675.92 822.34 678.35C826.82 680.63 863.95 696.32 868.57 698.32" stroke-width="3.3"/><g fill="rgba(0,0,0,0.1)" stroke-width="1.1"><circle cx="82.68" cy="200.99" r="3.3"/><circle cx="128.91" cy="350.75" r="3.3"/><circle cx="175.14" cy="453.09" r="3.3"/><circle cx="221.37" cy="474.93" r="3.3"/><circle cx="267.60" cy="483.41" r="3.3"/><circle cx="313.82" cy="520.48" r="3.3"/><circle cx="360.05" cy="530.77" r="3.3"/><circle cx="406.28" cy="514.86" r="3.3"/><circle cx="452.51" cy="426.25" r="3.3"/><circle cx="498.74" cy="366.97" r="3.3"/><circle cx="544.97" cy="497.70" r="3.3"/><circle cx="591.20" cy="475.86" r="3.3"/><circle cx="637.43" cy="510.49" r="3.3"/><circle cx="683.66" cy="542.32" r="3.3"/><circle cx="729.89" cy="620.32" r="3.3"/><circle cx="776.11" cy="651.21" r="3.3"/><circle cx="822.34" cy="678.35" r="3.3"/><circle cx="868.57" cy="698.32" r="3.3"/></g></g><g stroke="#2A8A38" fill="none"><path d="M82.68 266.51C87.30 267.63 124.45 276.15 128.91 277.74C133.70 279.46 170.28 298.30 175.14 299.58C179.53 300.74 216.80 302.48 221.37 302.08C226.04 301.67 262.91 291.98 267.60 291.47C272.16 290.98 309.43 291.03 313.82 292.09C318.68 293.27 355.92 314.88 360.05 313.93C365.16 312.76 401.67 275.19 406.28 270.88C410.91 266.55 447.37 231.07 452.51 227.51C456.62 224.67 493.91 207.86 498.74 206.92C503.16 206.05 540.40 209.81 544.97 209.41C549.65 209.00 586.80 200.47 591.20 198.81C596.04 196.97 634.26 172.26 637.43 174.47C643.51 178.72 677.40 258.22 683.66 263.39C686.65 265.86 725.97 249.50 729.89 250.91C735.21 252.83 770.94 295.43 776.11 296.77C780.18 297.83 818.46 273.62 822.34 274.93C827.70 276.75 863.95 322.78 868.57 328.10" stroke-width="3.3"/><g fill="rgba(0,0,0,0.1)" stroke-width="1.1"><circle cx="82.68" cy="266.51" r="3.3"/><circle cx="128.91" cy="277.74" r="3.3"/><circle cx="175.14" cy="299.58" r="3.3"/><circle cx="221.37" cy="302.08" r="3.3"/><circle cx="267.60" cy="291.47" r="3.3"/><circle cx="313.82" cy="292.09" r="3.3"/><circle cx="360.05" cy="313.93" r="3.3"/><circle cx="406.28" cy="270.88" r="3.3"/><circle cx="452.51" cy="227.51" r="3.3"/><circle cx="498.74" cy="206.92" r="3.3"/><circle cx="544.97" cy="209.41" r="3.3"/><circle cx="591.20" cy="198.81" r="3.3"/><circle cx="637.43" cy="174.47" r="3.3"/><circle cx="683.66" cy="263.39" r="3.3"/><circle cx="729.89" cy="250.91" r="3.3"/><circle cx="776.11" cy="296.77" r="3.3"/><circle cx="822.34" cy="274.93" r="3.3"/><circle cx="868.57" cy="328.10" r="3.3"/></g></g><g stroke="#3A3A98" fill="none"><path d="M82.68 260.89C87.30 259.43 124.17 247.01 128.91 246.23C133.42 245.48 170.54 245.27 175.14 245.61C179.79 245.95 217.11 254.11 221.37 253.09C226.36 251.90 262.78 226.07 267.60 223.45C272.03 221.04 310.19 201.19 313.82 202.86C319.44 205.44 354.80 264.41 360.05 265.89C364.04 267.00 401.49 232.24 406.28 228.76C410.74 225.53 447.92 201.84 452.51 198.81C457.16 195.73 493.83 170.16 498.74 167.61C503.07 165.35 540.24 152.04 544.97 150.76C549.48 149.54 586.85 141.82 591.20 142.65C596.09 143.57 633.71 164.65 637.43 168.23C642.95 173.54 678.41 230.11 683.66 231.57C687.65 232.67 724.71 196.37 729.89 193.81C733.95 191.81 772.19 188.20 776.11 186.01C781.44 183.05 817.83 142.12 822.34 142.33C827.08 142.56 863.95 185.58 868.57 190.38" stroke-width="3.3"/><g fill="rgba(0,0,0,0.1)" stroke-width="1.1"><circle cx="82.68" cy="260.89" r="3.3"/><circle cx="128.91" cy="246.23" r="3.3"/><circle cx="175.14" cy="245.61" r="3.3"/><circle cx="221.37" cy="253.09" r="3.3"/><circle cx="267.60" cy="223.45" r="3.3"/><circle cx="313.82" cy="202.86" r="3.3"/><circle cx="360.05" cy="265.89" r="3.3"/><circle cx="406.28" cy="228.76" r="3.3"/><circle cx="452.51" cy="198.81" r="3.3"/><circle cx="498.74" cy="167.61" r="3.3"/><circle cx="544.97" cy="150.76" r="3.3"/><circle cx="591.20" cy="142.65" r="3.3"/><circle cx="637.43" cy="168.23" r="3.3"/><circle cx="683.66" cy="231.57" r="3.3"/><circle cx="729.89" cy="193.81" r="3.3"/><circle cx="776.11" cy="186.01" r="3.3"/><circle cx="822.34" cy="142.33" r="3.3"/><circle cx="868.57" cy="190.38" r="3.3"/></g></g><g stroke="#30A0A8" fill="none"><path d="M82.68 268.38C87.30 270.22 124.78 284.14 128.91 286.79C134.03 290.07 169.86 325.60 175.14 327.66C179.11 329.22 216.86 323.99 221.37 322.98C226.11 321.93 262.86 308.17 267.60 307.07C272.11 306.02 309.82 299.97 313.82 301.45C319.07 303.40 354.79 339.21 360.05 341.39C364.04 343.04 401.74 339.28 406.28 339.83C410.99 340.40 448.31 353.60 452.51 352.62C457.56 351.45 493.61 320.15 498.74 318.30C502.86 316.82 540.36 319.49 544.97 319.24C549.61 318.99 586.74 314.53 591.20 313.31C595.99 312.00 633.48 292.71 637.43 293.97C642.72 295.65 678.25 340.49 683.66 342.64C687.50 344.17 725.39 330.39 729.89 330.78C734.63 331.20 772.12 347.84 776.11 350.75C781.37 354.58 817.47 393.70 822.34 398.17C826.72 402.19 863.95 431.87 868.57 435.61" stroke-width="3.3"/><g fill="rgba(0,0,0,0.1)" stroke-width="1.1"><circle cx="82.68" cy="268.38" r="3.3"/><circle cx="128.91" cy="286.79" r="3.3"/><circle cx="175.14" cy="327.66" r="3.3"/><circle cx="221.37" cy="322.98" r="3.3"/><circle cx="267.60" cy="307.07" r="3.3"/><circle cx="313.82" cy="301.45" r="3.3"/><circle cx="360.05" cy="341.39" r="3.3"/><circle cx="406.28" cy="339.83" r="3.3"/><circle cx="452.51" cy="352.62" r="3.3"/><circle cx="498.74" cy="318.30" r="3.3"/><circle cx="544.97" cy="319.24" r="3.3"/><circle cx="591.20" cy="313.31" r="3.3"/><circle cx="637.43" cy="293.97" r="3.3"/><circle cx="683.66" cy="342.64" r="3.3"/><circle cx="729.89" cy="330.78" r="3.3"/><circle cx="776.11" cy="350.75" r="3.3"/><circle cx="822.34" cy="398.17" r="3.3"/><circle cx="868.57" cy="435.61" r="3.3"/></g></g><g stroke="#1F4A08" fill="none"><path d="M82.68 262.45C87.30 262.73 124.42 264.34 128.91 265.26C133.66 266.24 170.38 280.72 175.14 281.49C179.63 282.21 216.75 280.49 221.37 280.24C226.00 279.99 263.06 277.35 267.60 276.49C272.31 275.60 309.65 261.75 313.82 262.77C318.90 264.00 355.15 298.30 360.05 298.96C364.39 299.54 401.39 276.62 406.28 275.25C410.64 274.03 448.53 274.89 452.51 273.06C457.78 270.64 493.49 235.45 498.74 232.81C502.74 230.80 540.33 227.00 544.97 226.57C549.57 226.15 586.86 225.65 591.20 224.39C596.11 222.97 634.08 197.74 637.43 199.74C643.33 203.26 677.53 274.85 683.66 279.61C686.77 282.04 725.64 270.61 729.89 271.63C734.88 272.82 771.11 300.52 776.11 301.77C780.36 302.82 818.52 292.92 822.34 294.59C827.76 296.95 863.95 337.27 868.57 342.01" stroke-width="3.3"/><g fill="rgba(0,0,0,0.1)" stroke-width="1.1"><circle cx="82.68" cy="262.45" r="3.3"/><circle cx="128.91" cy="265.26" r="3.3"/><circle cx="175.14" cy="281.49" r="3.3"/><circle cx="221.37" cy="280.24" r="3.3"/><circle cx="267.60" cy="276.49" r="3.3"/><circle cx="313.82" cy="262.77" r="3.3"/><circle cx="360.05" cy="298.96" r="3.3"/><circle cx="406.28" cy="275.25" r="3.3"/><circle cx="452.51" cy="273.06" r="3.3"/><circle cx="498.74" cy="232.81" r="3.3"/><circle cx="544.97" cy="226.57" r="3.3"/><circle cx="591.20" cy="224.39" r="3.3"/><circle cx="637.43" cy="199.74" r="3.3"/><circle cx="683.66" cy="279.61" r="3.3"/><circle cx="729.89" cy="271.63" r="3.3"/><circle cx="776.11" cy="301.77" r="3.3"/><circle cx="822.34" cy="294.59" r="3.3"/><circle cx="868.57" cy="342.01" r="3.3"/></g></g><g stroke="#4A7060" fill="none"><path d="M82.68 310.81C87.30 307.19 123.78 277.13 128.91 274.62C133.02 272.61 170.50 265.67 175.14 265.57C179.74 265.48 216.72 272.39 221.37 272.75C225.96 273.11 263.14 271.86 267.60 272.75C272.39 273.70 309.11 289.59 313.82 291.16C318.36 292.66 355.36 302.67 360.05 303.45C364.60 304.20 401.74 306.94 406.28 306.45C410.99 305.93 447.95 294.84 452.51 293.34C457.19 291.81 493.98 276.84 498.74 276.18C503.22 275.56 540.53 279.38 544.97 280.55C549.78 281.82 586.41 299.97 591.20 300.58C595.66 301.15 633.17 291.42 637.43 292.41C642.41 293.56 678.75 321.27 683.66 322.05C688.00 322.73 725.34 306.85 729.89 307.07C734.58 307.30 771.30 325.53 776.11 326.60C780.55 327.59 817.95 326.57 822.34 327.66C827.20 328.86 863.95 347.32 868.57 349.50" stroke-width="3.3"/><g fill="rgba(0,0,0,0.1)" stroke-width="1.1"><circle cx="82.68" cy="310.81" r="3.3"/><circle cx="128.91" cy="274.62" r="3.3"/><circle cx="175.14" cy="265.57" r="3.3"/><circle cx="221.37" cy="272.75" r="3.3"/><circle cx="267.60" cy="272.75" r="3.3"/><circle cx="313.82" cy="291.16" r="3.3"/><circle cx="360.05" cy="303.45" r="3.3"/><circle cx="406.28" cy="306.45" r="3.3"/><circle cx="452.51" cy="293.34" r="3.3"/><circle cx="498.74" cy="276.18" r="3.3"/><circle cx="544.97" cy="280.55" r="3.3"/><circle cx="591.20" cy="300.58" r="3.3"/><circle cx="637.43" cy="292.41" r="3.3"/><circle cx="683.66" cy="322.05" r="3.3"/><circle cx="729.89" cy="307.07" r="3.3"/><circle cx="776.11" cy="326.60" r="3.3"/><circle cx="822.34" cy="327.66" r="3.3"/><circle cx="868.57" cy="349.50" r="3.3"/></g></g><g stroke="#E0A010" fill="none"><path d="M82.68 293.03C87.30 293.56 124.55 296.94 128.91 298.33C133.80 299.90 170.23 321.43 175.14 322.67C179.48 323.77 216.79 322.23 221.37 321.73C226.03 321.23 263.04 312.42 267.60 312.69C272.28 312.95 309.53 324.92 313.82 327.04C318.77 329.48 355.00 356.43 360.05 358.24C364.25 359.74 401.66 359.89 406.28 360.11C410.91 360.33 447.98 363.16 452.51 362.61C457.23 362.03 494.15 348.75 498.74 348.88C503.40 349.00 540.22 364.09 544.97 365.10C549.46 366.06 586.58 368.57 591.20 368.53C595.82 368.50 633.05 363.58 637.43 364.48C642.30 365.48 679.88 389.03 683.66 387.57C689.13 385.44 725.09 328.95 729.89 328.60C734.34 328.27 770.60 378.11 776.11 380.70C779.84 382.45 817.76 371.78 822.34 371.97C827.01 372.15 863.95 383.20 868.57 384.45" stroke-width="3.3"/><g fill="rgba(0,0,0,0.1)" stroke-width="1.1"><circle cx="82.68" cy="293.03" r="3.3"/><circle cx="128.91" cy="298.33" r="3.3"/><circle cx="175.14" cy="322.67" r="3.3"/><circle cx="221.37" cy="321.73" r="3.3"/><circle cx="267.60" cy="312.69" r="3.3"/><circle cx="313.82" cy="327.04" r="3.3"/><circle cx="360.05" cy="358.24" r="3.3"/><circle cx="406.28" cy="360.11" r="3.3"/><circle cx="452.51" cy="362.61" r="3.3"/><circle cx="498.74" cy="348.88" r="3.3"/><circle cx="544.97" cy="365.10" r="3.3"/><circle cx="591.20" cy="368.53" r="3.3"/><circle cx="637.43" cy="364.48" r="3.3"/><circle cx="683.66" cy="387.57" r="3.3"/><circle cx="729.89" cy="328.60" r="3.3"/><circle cx="776.11" cy="380.70" r="3.3"/><circle cx="822.34" cy="371.97" r="3.3"/><circle cx="868.57" cy="384.45" r="3.3"/></g></g><g stroke="#A56040" fill="none"><path d="M82.68 271.50C87.30 270.07 124.28 257.18 128.91 257.15C133.52 257.12 170.59 269.28 175.14 270.88C179.84 272.53 216.60 289.05 221.37 289.60C225.85 290.11 263.03 282.53 267.60 281.49C272.27 280.41 309.14 268.68 313.82 268.38C318.39 268.09 355.90 273.71 360.05 275.56C365.15 277.83 401.18 308.05 406.28 309.57C410.43 310.80 447.93 303.88 452.51 303.01C457.17 302.13 494.08 292.33 498.74 292.09C503.32 291.86 540.36 297.62 544.97 298.33C549.61 299.05 586.57 306.43 591.20 306.45C595.82 306.46 633.22 297.55 637.43 298.65C642.47 299.95 678.72 327.92 683.66 330.47C687.96 332.69 725.91 343.74 729.89 346.38C735.16 349.89 770.98 388.09 776.11 391.93C780.23 395.01 817.91 412.97 822.34 415.65C827.15 418.55 863.95 444.57 868.57 447.78" stroke-width="3.3"/><g fill="rgba(0,0,0,0.1)" stroke-width="1.1"><circle cx="82.68" cy="271.50" r="3.3"/><circle cx="128.91" cy="257.15" r="3.3"/><circle cx="175.14" cy="270.88" r="3.3"/><circle cx="221.37" cy="289.60" r="3.3"/><circle cx="267.60" cy="281.49" r="3.3"/><circle cx="313.82" cy="268.38" r="3.3"/><circle cx="360.05" cy="275.56" r="3.3"/><circle cx="406.28" cy="309.57" r="3.3"/><circle cx="452.51" cy="303.01" r="3.3"/><circle cx="498.74" cy="292.09" r="3.3"/><circle cx="544.97" cy="298.33" r="3.3"/><circle cx="591.20" cy="306.45" r="3.3"/><circle cx="637.43" cy="298.65" r="3.3"/><circle cx="683.66" cy="330.47" r="3.3"/><circle cx="729.89" cy="346.38" r="3.3"/><circle cx="776.11" cy="391.93" r="3.3"/><circle cx="822.34" cy="415.65" r="3.3"/><circle cx="868.57" cy="447.78" r="3.3"/></g></g><g fill="rgba(0,0,0,0.1)" stroke-width="3.3" ><rect x="58.65" y="13.70" width="44" height="13.2" stroke="#A56040"/><text fill="#666" stroke="none" transform="translate(109.25 22.75) scale(0.93 1)">UMB - TheDuke</text><rect x="213.35" y="13.70" width="44" height="13.2" stroke="#E0A010"/><text fill="#666" stroke="none" transform="translate(263.95 22.75) scale(0.93 1)">LCX - Carlitos</text><rect x="355.25" y="13.70" width="44" height="13.2" stroke="#4A7060"/><text fill="#666" stroke="none" transform="translate(405.85 22.75) scale(0.93 1)">ZOO - Quitoma</text><rect x="504.75" y="13.70" width="44" height="13.2" stroke="#1F4A08"/><text fill="#666" stroke="none" transform="translate(555.35 22.75) scale(0.93 1)">AVAX - dlogo</text><rect x="642.95" y="13.70" width="44" height="13.2" stroke="#30A0A8"/><text fill="#666" stroke="none" transform="translate(693.55 22.75) scale(0.93 1)">JEWEL - Silverplay</text><rect x="815.15" y="13.70" width="44" height="13.2" stroke="#3A3A98"/><text fill="#666" stroke="none" transform="translate(865.75 22.75) scale(0.93 1)">LINK - Riddick</text><rect x="959.85" y="13.70" width="44" height="13.2" stroke="#2A8A38"/><text fill="#666" stroke="none" transform="translate(1010.45 22.75) scale(0.93 1)">NEAR - telemako</text><rect x="1121.85" y="13.70" width="44" height="13.2" stroke="#A8E0E8"/><text fill="#666" stroke="none" transform="translate(1172.45 22.75) scale(0.93 1)">OMNOM - symbio</text><rect x="1287.35" y="13.70" width="44" height="13.2" stroke="#70A828"/><text fill="#666" stroke="none" transform="translate(1337.95 22.75) scale(0.93 1)">ALPHA - hatch</text><rect x="58.15" y="37.90" width="44" height="13.2" stroke="#857070"/><text fill="#666" stroke="none" transform="translate(108.75 46.95) scale(0.93 1)">AZERO - delwans</text><rect x="223.35" y="37.90" width="44" height="13.2" stroke="#B8FF70"/><text fill="#666" stroke="none" transform="translate(273.95 46.95) scale(0.93 1)">SURE - Lor</text><rect x="351.05" y="37.90" width="44" height="13.2" stroke="#68B010"/><text fill="#666" stroke="none" transform="translate(401.65 46.95) scale(0.93 1)">BNB - razza</text><path fill="#666" stroke="none" transform="translate(471.83 46.95)" d="M4.25 0H2.95V-7.35C2.35 -6.85 1.55 -6.5 0.8 -6.35V-7.55C1.9 -7.9 2.85 -8.7 3.35 -9.6H4.25Z"/><text fill="#666" stroke="none" transform="translate(479.07 46.95) scale(0.93 1)">3</text><rect x="497.45" y="37.90" width="44" height="13.2" stroke="#9868B8"/><text fill="#666" stroke="none" transform="translate(548.05 46.95) scale(0.93 1)">VLX - Jendrad</text><rect x="641.65" y="37.90" width="44" height="13.2" stroke="#088008"/><text fill="#666" stroke="none" transform="translate(692.25 46.95) scale(0.93 1)">EOS - Spandau</text><rect x="794.15" y="37.90" width="44" height="13.2" stroke="#1E72C4"/><text fill="#666" stroke="none" transform="translate(844.75 46.95) scale(0.93 1)">NEER - Rolo Heisenberg</text><rect x="1000.65" y="37.90" width="44" height="13.2" stroke="#98FF40"/><text fill="#666" stroke="none" transform="translate(1051.25 46.95) scale(0.93 1)">FORTH - mirto</text><rect x="1146.85" y="37.90" width="44" height="13.2" stroke="#E83068"/><text fill="#666" stroke="none" transform="translate(1197.45 46.95) scale(0.93 1)">ETH - Sauracat</text><rect x="1297.65" y="37.90" width="44" height="13.2" stroke="#661A66"/><text fill="#666" stroke="none" transform="translate(1348.25 46.95) scale(0.93 1)">CRO - rglezb</text><rect x="267.65" y="62.10" width="44" height="13.2" stroke="#20B8B8"/><text fill="#666" stroke="none" transform="translate(318.25 71.15) scale(0.93 1)">USDT - Benjaker</text><rect x="426.65" y="62.10" width="44" height="13.2" stroke="#98B038"/><text fill="#666" stroke="none" transform="translate(477.25 71.15) scale(0.93 1)">CMCX - titirs</text><rect x="562.05" y="62.10" width="44" height="13.2" stroke="#5010F0"/><text fill="#666" stroke="none" transform="translate(612.65 71.15) scale(0.93 1)">CAKE - Marta_gru</text><rect x="729.55" y="62.10" width="44" height="13.2" stroke="#700868"/><text fill="#666" stroke="none" transform="translate(780.15 71.15) scale(0.93 1)">CHURCH - Bambino</text><rect x="910.25" y="62.10" width="44" height="13.2" stroke="#504878"/><text fill="#666" stroke="none" transform="translate(960.85 71.15) scale(0.93 1)">POO - MrPapagiorgio</text><rect x="1097.05" y="62.10" width="44" height="13.2" stroke="#104848"/><text fill="#666" stroke="none" transform="translate(1147.65 71.15) scale(0.93 1)">SHIB - biter</text></g></svg></body></html>
